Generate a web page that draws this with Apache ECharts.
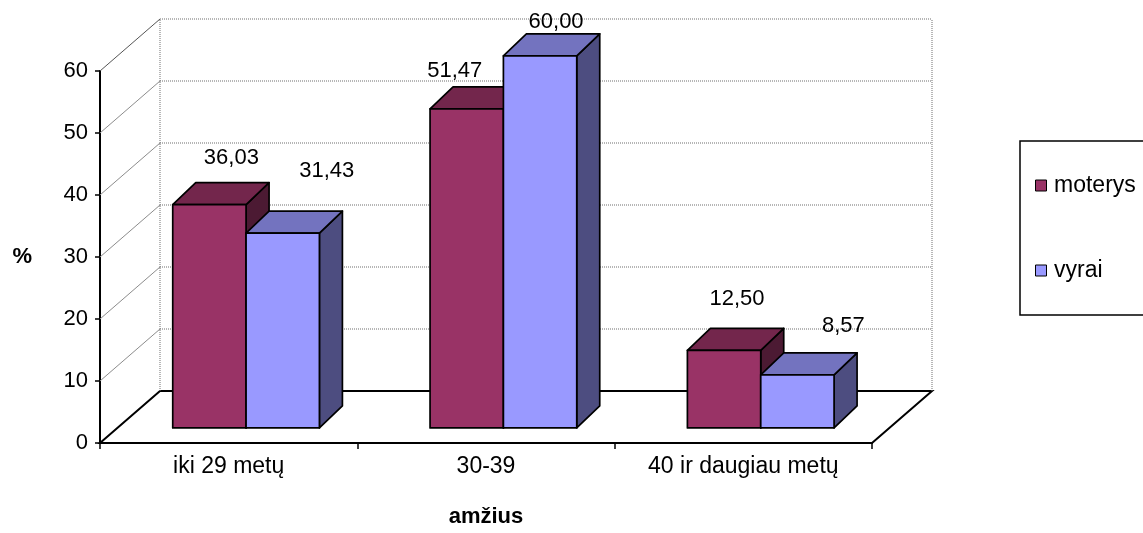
<!DOCTYPE html>
<html>
<head>
<meta charset="utf-8">
<script src="https://cdn.jsdelivr.net/npm/echarts@6/dist/echarts.min.js"></script>
<style>
  html, body { margin: 0; padding: 0; background: #fff; }
  #chart { width: 1143px; height: 533px; }
</style>
</head>
<body>
<div id="chart"></div>
<script>
// Age groups and shares (%) of women and men
const categories = ['iki 29 metų', '30-39', '40 ir daugiau metų'];
const moterys = [36.03, 51.47, 12.50];
const vyrai = [31.43, 60.00, 8.57];
const yTicks = [0, 10, 20, 30, 40, 50, 60];
const seriesNames = ['moterys', 'vyrai'];

// Pseudo-3D projection settings (pixels)
const WALL_DEPTH = [60, -52];   // offset from front plane to back wall
const BAR_DEPTH = [23, -22];    // depth of each bar block
const BAR_FRONT = 0.29;         // bars stand this far into the floor
const BAR_SHARE = 0.285;        // width of one bar as a share of the category band
const FONT = '"Liberation Sans", Arial, sans-serif';

// small nudges for the value labels, relative to the top-front centre of each bar
const labelShift = {
  moterys: [[22, -47], [-12, -38], [13, -51]],
  vyrai:   [[44, -62], [16, -34], [46, -49]]
};

const shades = {
  moterys: { front: '#993366', top: '#73264C', side: '#4C1A33' },
  vyrai:   { front: '#9999FF', top: '#7373BF', side: '#4D4D80' }
};

function fmt(v) { return v.toFixed(2).replace('.', ','); }

function renderWalls(params, api) {
  const cs = params.coordSys;
  const xl = cs.x, xr = cs.x + cs.width;
  const dx = WALL_DEPTH[0], dy = WALL_DEPTH[1];
  const y0 = api.coord([0, yTicks[0]])[1];
  const yTop = api.coord([0, yTicks[yTicks.length - 1]])[1];
  const children = [];
  // floor
  children.push({
    type: 'polygon',
    shape: { points: [[xl, y0], [xl + dx, y0 + dy], [xr + dx, y0 + dy], [xr, y0]] },
    style: { fill: '#fff', stroke: '#000', lineWidth: 2 }
  });
  // back wall edges
  [xl + dx, xr + dx].forEach(function (x) {
    children.push({
      type: 'line',
      shape: { x1: x, y1: y0 + dy, x2: x, y2: yTop + dy },
      style: { stroke: '#6e6e6e', lineWidth: 1, lineDash: [1, 1] }
    });
  });
  yTicks.forEach(function (v) {
    if (v === 0) return;
    const y = api.coord([0, v])[1];
    // side wall line
    children.push({
      type: 'line',
      shape: { x1: xl, y1: y, x2: xl + dx, y2: y + dy },
      style: { stroke: v === yTicks[yTicks.length - 1] ? '#555' : '#8c8c8c', lineWidth: 1 }
    });
    // back wall gridline
    children.push({
      type: 'line',
      shape: { x1: xl + dx, y1: y + dy, x2: xr + dx, y2: y + dy },
      style: { stroke: '#6e6e6e', lineWidth: 1, lineDash: [1, 1] }
    });
  });
  return { type: 'group', children: children };
}

function makeBarRenderer(name, side) {
  return function (params, api) {
    const idx = api.value(0);
    const val = api.value(1);
    const base = api.coord([idx, 0]);
    const top = api.coord([idx, val]);
    const band = api.size([1, 0])[0];
    const w = band * BAR_SHARE;
    const fx = WALL_DEPTH[0] * BAR_FRONT, fy = WALL_DEPTH[1] * BAR_FRONT;
    const x0 = side < 0 ? base[0] + fx - w : base[0] + fx;
    const x1 = x0 + w;
    const yb = base[1] + fy;
    const yt = top[1] + fy;
    const bx = BAR_DEPTH[0], by = BAR_DEPTH[1];
    const c = shades[name];
    const edge = { stroke: '#000', lineWidth: 1.7, lineJoin: 'round' };
    const shift = labelShift[name][params.dataIndex];
    return {
      type: 'group',
      children: [
        { type: 'polygon', shape: { points: [[x1, yt], [x1 + bx, yt + by], [x1 + bx, yb + by], [x1, yb]] },
          style: Object.assign({ fill: c.side }, edge) },
        { type: 'polygon', shape: { points: [[x0, yt], [x1, yt], [x1 + bx, yt + by], [x0 + bx, yt + by]] },
          style: Object.assign({ fill: c.top }, edge) },
        { type: 'rect', shape: { x: x0, y: yt, width: w, height: yb - yt },
          style: Object.assign({ fill: c.front }, edge) },
        { type: 'text',
          style: { text: fmt(val), x: (x0 + x1) / 2 + shift[0], y: yt + shift[1],
                   align: 'center', verticalAlign: 'middle', fill: '#000',
                   font: '22px ' + FONT } }
      ]
    };
  };
}

const chart = echarts.init(document.getElementById('chart'), null, { renderer: 'canvas' });

const option = {
  backgroundColor: '#fff',
  animation: false,
  textStyle: { fontFamily: FONT },
  grid: { left: 100, top: 71, width: 772, height: 380, containLabel: false },
  legend: {
    data: seriesNames,
    orient: 'vertical',
    left: 1020,
    top: 141,
    padding: [33, 40, 33, 15],
    itemGap: 62,
    itemWidth: 16,
    itemHeight: 11,
    icon: 'path://M0,0H11V11H0Z',
    itemStyle: { borderColor: '#000', borderWidth: 1 },
    borderColor: '#000',
    borderWidth: 1.5,
    textStyle: { fontSize: 23, color: '#000', fontFamily: FONT, lineHeight: 22 }
  },
  xAxis: {
    type: 'category',
    data: categories,
    name: 'amžius',
    nameLocation: 'middle',
    nameGap: 63,
    nameTextStyle: { fontSize: 22, fontWeight: 'bold', color: '#000', fontFamily: FONT },
    axisLine: { lineStyle: { color: '#000', width: 2 } },
    axisTick: { show: true, alignWithLabel: false, length: 6, lineStyle: { color: '#000', width: 1.5 } },
    axisLabel: { fontSize: 23, color: '#000', margin: 12, fontFamily: FONT },
    splitLine: { show: false }
  },
  yAxis: {
    type: 'value',
    min: 0,
    max: 60,
    interval: 10,
    name: '%',
    nameLocation: 'middle',
    nameRotate: 0,
    nameGap: 68,
    nameTextStyle: { fontSize: 22, fontWeight: 'bold', color: '#000', fontFamily: FONT },
    axisLine: { show: true, lineStyle: { color: '#000', width: 2 } },
    axisTick: { show: true, length: 5, lineStyle: { color: '#000', width: 1.5 } },
    axisLabel: { fontSize: 22, color: '#000', margin: 12, fontFamily: FONT },
    splitLine: { show: false }
  },
  series: [
    {
      name: 'walls',
      type: 'custom',
      silent: true,
      z: 1,
      renderItem: renderWalls,
      data: [[0, 0]]
    },
    {
      name: 'moterys',
      type: 'custom',
      z: 3,
      itemStyle: { color: shades.moterys.front },
      renderItem: makeBarRenderer('moterys', -1),
      encode: { x: 0, y: 1 },
      data: moterys.map(function (v, i) { return [i, v]; })
    },
    {
      name: 'vyrai',
      type: 'custom',
      z: 4,
      itemStyle: { color: shades.vyrai.front },
      renderItem: makeBarRenderer('vyrai', 1),
      encode: { x: 0, y: 1 },
      data: vyrai.map(function (v, i) { return [i, v]; })
    }
  ]
};

chart.setOption(option);
</script>
</body>
</html>
